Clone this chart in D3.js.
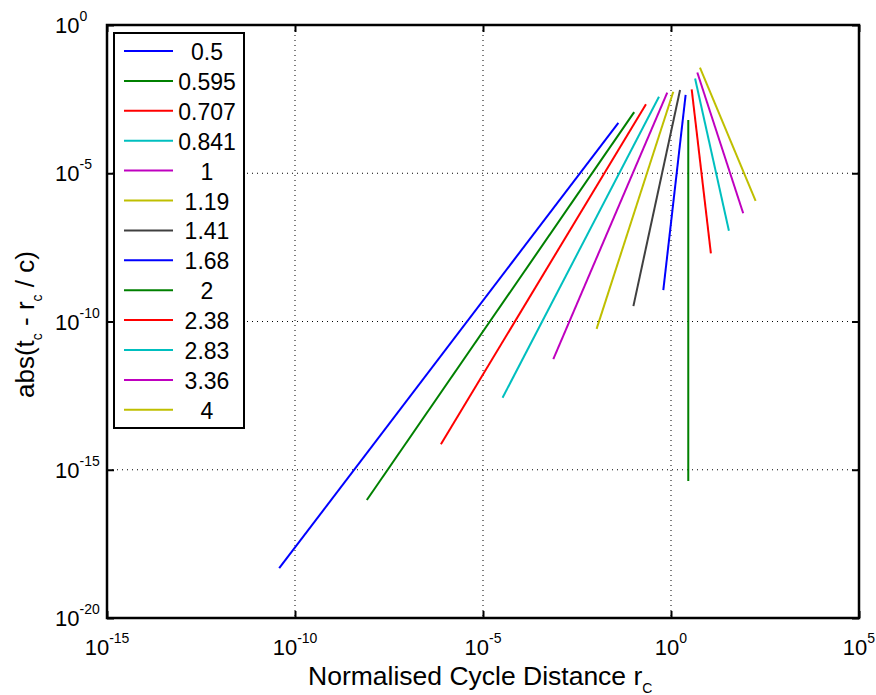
<!DOCTYPE html>
<html>
<head>
<meta charset="utf-8">
<script src="https://cdn.jsdelivr.net/npm/d3@7"></script>
<style>
  html, body { margin: 0; padding: 0; background: #fff; }
  svg { display: block; font-family: Arial, "Liberation Sans", Helvetica, sans-serif; }
</style>
</head>
<body>
<svg id="chart" width="876" height="695"></svg>
<script>
// ---- data ----
const seriesLabels = ["0.5", "0.595", "0.707", "0.841", "1", "1.19", "1.41", "1.68", "2", "2.38", "2.83", "3.36", "4"];
const seriesColors = ["#0000ff", "#008000", "#ff0000", "#00bfbf", "#bf00bf", "#bfbf00", "#404040",
                      "#0000ff", "#008000", "#ff0000", "#00bfbf", "#bf00bf", "#bfbf00"];
// start and end points of each (straight, log-log) segment
const rStart = [3.80e-11, 8.13e-9, 7.59e-7, 3.31e-5, 7.41e-4, 1.05e-2, 0.100, 0.624, 2.88, 3.55, 4.37, 5.01, 5.89];
const errStart = [4.79e-19, 9.55e-17, 7.24e-15, 2.69e-13, 5.37e-12, 5.62e-11, 3.31e-10, 1.15e-9, 4.17e-16, 6.76e-3, 1.58e-2, 2.51e-2, 3.63e-2];
const rEnd = [3.98e-2, 0.105, 0.216, 0.479, 0.794, 1.15, 1.74, 2.45, 2.88, 11.5, 34.7, 83.2, 178];
const errEnd = [5.01e-4, 1.15e-3, 2.14e-3, 3.80e-3, 5.25e-3, 5.62e-3, 6.46e-3, 4.37e-3, 6.31e-4, 2.00e-8, 1.15e-7, 4.47e-7, 1.17e-6];
const xTickExps = [-15, -10, -5, 0, 5];
const yTickExps = [-20, -15, -10, -5, 0];

// ---- layout ----
const svg = d3.select("#chart");
const L = 107, R = 859, T = 25, B = 618;
const x = d3.scaleLog().domain([1e-15, 1e5]).range([L, R]);
const y = d3.scaleLog().domain([1e-20, 1]).range([B, T]);
const xTicks = xTickExps.map(e => Math.pow(10, e));
const yTicks = yTickExps.map(e => Math.pow(10, e));

// grid
const grid = svg.append("g").attr("stroke", "#000").attr("stroke-width", 1).attr("stroke-dasharray", "1,4");
grid.selectAll(".gx").data(xTicks).join("line")
  .attr("x1", d => x(d)).attr("x2", d => x(d)).attr("y1", T).attr("y2", B);
grid.selectAll(".gy").data(yTicks).join("line")
  .attr("y1", d => y(d)).attr("y2", d => y(d)).attr("x1", L).attr("x2", R);

// data lines
const series = seriesLabels.map((lab, i) => ({
  label: lab, color: seriesColors[i],
  pts: [[rStart[i], errStart[i]], [rEnd[i], errEnd[i]]]
}));
const line = d3.line().x(d => x(d[0])).y(d => y(d[1]));
svg.append("g").selectAll("path").data(series).join("path")
  .attr("d", d => line(d.pts))
  .attr("fill", "none")
  .attr("stroke", d => d.color)
  .attr("stroke-width", 2);

// axes (ticks inward on all four sides)
function styleAxis(g) {
  g.selectAll("text").remove();
  g.select(".domain").remove();
  g.selectAll(".tick line").attr("stroke", "#000").attr("stroke-width", 2);
}
svg.append("g").attr("transform", `translate(0,${B})`)
  .call(d3.axisBottom(x).tickValues(xTicks).tickSize(-7)).call(styleAxis);
svg.append("g").attr("transform", `translate(0,${T})`)
  .call(d3.axisTop(x).tickValues(xTicks).tickSize(-7)).call(styleAxis);
svg.append("g").attr("transform", `translate(${L},0)`)
  .call(d3.axisLeft(y).tickValues(yTicks).tickSize(-7)).call(styleAxis);
svg.append("g").attr("transform", `translate(${R},0)`)
  .call(d3.axisRight(y).tickValues(yTicks).tickSize(-7)).call(styleAxis);

svg.append("rect").attr("x", L).attr("y", T).attr("width", R - L).attr("height", B - T)
  .attr("fill", "none").attr("stroke", "#000").attr("stroke-width", 2.5);

// tick labels
const fs = 22, sfs = 14;
const xl = svg.append("g").attr("font-size", fs).attr("fill", "#000");
xTickExps.forEach((e, i) => {
  const t = xl.append("text").attr("x", x(xTicks[i])).attr("y", 655).attr("text-anchor", "middle");
  t.append("tspan").text("10");
  t.append("tspan").attr("font-size", sfs).attr("dy", -12).text(String(e));
});
const yl = svg.append("g").attr("font-size", fs).attr("fill", "#000");
yTickExps.forEach((e, i) => {
  const t = yl.append("text").attr("x", 55).attr("y", y(yTicks[i]) + 8).attr("text-anchor", "start");
  t.append("tspan").text("10");
  t.append("tspan").attr("font-size", sfs).attr("dy", -12).text(String(e));
});

// axis titles
const xt = svg.append("text").attr("x", 308).attr("y", 685).attr("font-size", 26.5).attr("fill", "#000");
xt.append("tspan").text("Normalised Cycle Distance r");
xt.append("tspan").attr("font-size", 14).attr("dy", 8).text("C");

const yt = svg.append("text").attr("transform", "translate(34,398) rotate(-90)")
  .attr("font-size", 26).attr("fill", "#000");
yt.append("tspan").text("abs(t");
yt.append("tspan").attr("font-size", 14).attr("dy", 8).text("c");
yt.append("tspan").attr("dy", -8).text(" - r");
yt.append("tspan").attr("font-size", 14).attr("dy", 8).text("c");
yt.append("tspan").attr("dy", -8).text(" / c)");

// legend
const lg = svg.append("g");
lg.append("rect").attr("x", 114).attr("y", 33).attr("width", 130).attr("height", 395)
  .attr("fill", "#fff").attr("stroke", "#000").attr("stroke-width", 2);
const rowY = i => 51 + i * 29.9;
lg.selectAll("line.s").data(series).join("line")
  .attr("x1", 124).attr("x2", 173)
  .attr("y1", (d, i) => rowY(i)).attr("y2", (d, i) => rowY(i))
  .attr("stroke", d => d.color).attr("stroke-width", 2);
lg.selectAll("text").data(series).join("text")
  .attr("x", 207).attr("y", (d, i) => rowY(i) + 9)
  .attr("text-anchor", "middle").attr("font-size", 23).attr("fill", "#000")
  .text(d => d.label);
</script>
</body>
</html>
